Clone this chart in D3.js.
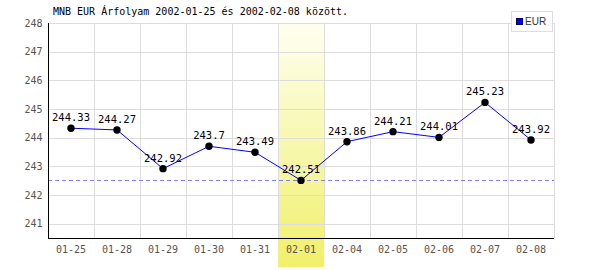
<!DOCTYPE html>
<html>
<head>
<meta charset="utf-8">
<script src="https://cdn.jsdelivr.net/npm/d3@7"></script>
<style>
  body { margin: 0; background: #fff; }
  text { font-family: "DejaVu Sans Mono", monospace; }
</style>
</head>
<body>
<div id="chart"></div>
<script>
var dates = ["01-25", "01-28", "01-29", "01-30", "01-31", "02-01", "02-04", "02-05", "02-06", "02-07", "02-08"];
var rates = [244.33, 244.27, 242.92, 243.7, 243.49, 242.51, 243.86, 244.21, 244.01, 245.23, 243.92];
var yTicks = [241, 242, 243, 244, 245, 246, 247, 248];
var highlightDate = "02-01";
var refValue = 242.51;
var title = "MNB EUR Árfolyam 2002-01-25 és 2002-02-08 között.";
var seriesName = "EUR";

var width = 600, height = 270;
// plot area (note: "top" is a reserved window property, so use other names)
var plotLeft = 48, plotRight = 554, plotTop = 23, plotBottom = 238;

var svg = d3.select("#chart").append("svg")
  .attr("width", width)
  .attr("height", height);

var x = d3.scaleBand().domain(dates).range([plotLeft, plotRight]).padding(0);
var y = d3.scaleLinear().domain([240.5, 248]).range([plotBottom, plotTop]);

// highlighted day
var grad = svg.append("defs").append("linearGradient")
  .attr("id", "hl").attr("x1", 0).attr("y1", 0).attr("x2", 0).attr("y2", 1);
grad.append("stop").attr("offset", "0%").attr("stop-color", "#fffff2");
grad.append("stop").attr("offset", "100%").attr("stop-color", "#f0f06a");

svg.append("rect")
  .attr("x", x(highlightDate))
  .attr("y", 21)
  .attr("width", x.bandwidth())
  .attr("height", 246)
  .attr("fill", "url(#hl)");

// grid
svg.selectAll("line.hgrid")
  .data(yTicks)
  .enter()
  .append("line")
    .attr("class", "hgrid")
    .attr("x1", plotLeft).attr("x2", plotRight)
    .attr("y1", function(d) { return Math.round(y(d)) + 0.5; })
    .attr("y2", function(d) { return Math.round(y(d)) + 0.5; })
    .attr("stroke", "#dddddd");

svg.selectAll("line.vgrid")
  .data(dates)
  .enter()
  .append("line")
    .attr("class", "vgrid")
    .attr("x1", function(d) { return Math.round(x(d) + x.bandwidth()) + 0.5; })
    .attr("x2", function(d) { return Math.round(x(d) + x.bandwidth()) + 0.5; })
    .attr("y1", plotTop).attr("y2", plotBottom)
    .attr("stroke", "#dddddd");

// reference line
svg.append("line")
  .attr("x1", plotLeft).attr("x2", plotRight)
  .attr("y1", Math.round(y(refValue)) + 0.5)
  .attr("y2", Math.round(y(refValue)) + 0.5)
  .attr("stroke", "#8080ff")
  .attr("stroke-dasharray", "4,3");

// axes
var yAxis = d3.axisLeft(y).tickValues(yTicks).tickSize(0).tickPadding(6).tickFormat(d3.format("d"));
var gy = svg.append("g").attr("transform", "translate(" + (plotLeft + 0.5) + ",0)").call(yAxis);
gy.select(".domain").attr("stroke", "#000").attr("d", "M0," + plotTop + "V" + plotBottom);
gy.selectAll("text").attr("fill", "#555").style("font-size", "10px");

var xAxis = d3.axisBottom(x).tickSize(0).tickPadding(7);
var gx = svg.append("g").attr("transform", "translate(0," + (plotBottom + 0.5) + ")").call(xAxis);
gx.select(".domain").attr("stroke", "#000").attr("d", "M" + plotLeft + ",0H" + plotRight);
gx.selectAll("text").attr("fill", "#555").style("font-size", "10px");

// series
var cx = function(d, i) { return x(dates[i]) + x.bandwidth() / 2; };

svg.append("path")
  .datum(rates)
  .attr("fill", "none")
  .attr("stroke", "#0000ff")
  .attr("stroke-width", 1)
  .attr("d", d3.line().x(cx).y(function(d) { return y(d); }));

svg.selectAll("circle")
  .data(rates)
  .enter()
  .append("circle")
    .attr("cx", cx)
    .attr("cy", function(d) { return y(d); })
    .attr("r", 3.7)
    .attr("fill", "#000");

svg.selectAll("text.val")
  .data(rates)
  .enter()
  .append("text")
    .attr("class", "val")
    .attr("x", cx)
    .attr("y", function(d) { return y(d) - 7; })
    .attr("text-anchor", "middle")
    .style("font-size", "10.5px")
    .attr("fill", "#000")
    .text(function(d) { return d; });

// title
svg.append("text")
  .attr("x", 53)
  .attr("y", 15)
  .style("font-size", "10px")
  .attr("fill", "#000")
  .text(title);

// legend
var lg = svg.append("g");
lg.append("rect")
  .attr("x", 511.5).attr("y", 11.5).attr("width", 41).attr("height", 20)
  .attr("fill", "#fff").attr("stroke", "#dddddd");
lg.append("rect")
  .attr("x", 516.5).attr("y", 18.5).attr("width", 6).attr("height", 6)
  .attr("fill", "#0000ff").attr("stroke", "#000066");
lg.append("text")
  .attr("x", 525).attr("y", 25)
  .style("font-family", "'Liberation Sans', Arial, sans-serif")
  .style("font-size", "10px")
  .attr("fill", "#333")
  .text(seriesName);
</script>
</body>
</html>
